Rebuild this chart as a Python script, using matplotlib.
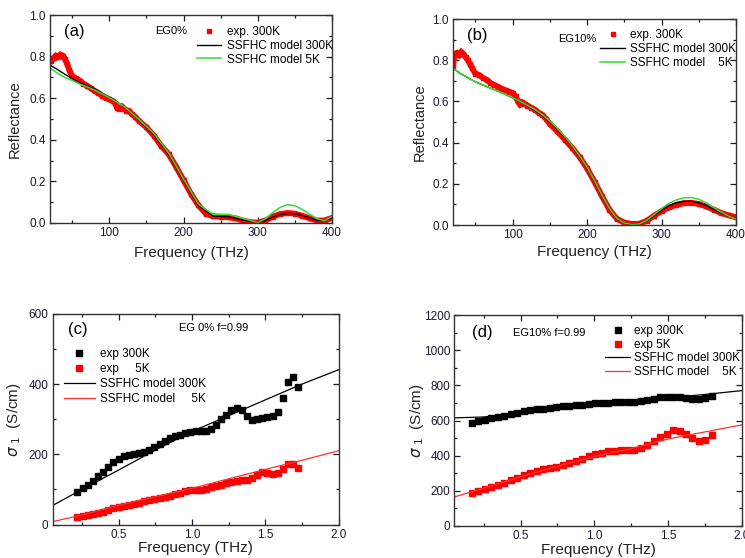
import numpy as np
import matplotlib
matplotlib.use('Agg')
import matplotlib.pyplot as plt
from matplotlib.ticker import MultipleLocator

plt.rcParams['font.family'] = ['Liberation Sans', 'DejaVu Sans']
plt.rcParams['mathtext.fontset'] = 'dejavusans'

GREEN = '#33dd33'

# ---- panel (a): EG0% reflectance ----
freq_a_exp = [22, 25, 28, 31, 34, 37, 40, 43, 46, 50, 55, 60, 65, 70, 75, 80, 85, 90, 95, 100,
              105, 108, 110, 113, 117, 120, 123, 126, 130, 135, 140, 150, 160, 170, 180, 190,
              200, 210, 220, 230, 240, 250, 260, 270, 280, 290, 300, 310, 320, 330, 340, 350,
              360, 370, 380, 390, 400]
refl_a_exp = [0.78, 0.795, 0.805, 0.80, 0.81, 0.805, 0.79, 0.765, 0.735, 0.705, 0.695, 0.685,
              0.67, 0.66, 0.648, 0.635, 0.625, 0.612, 0.602, 0.595, 0.585, 0.575, 0.555, 0.55,
              0.56, 0.55, 0.54, 0.54, 0.525, 0.51, 0.49, 0.46, 0.42, 0.37, 0.33, 0.27, 0.205,
              0.14, 0.085, 0.045, 0.032, 0.03, 0.028, 0.022, 0.012, 0.004, 0.002, 0.012, 0.03,
              0.043, 0.048, 0.045, 0.035, 0.022, 0.012, 0.012, 0.025]
freq_a_mod = [22, 30, 40, 50, 60, 70, 80, 90, 100, 120, 140, 160, 180, 200, 220, 240, 260, 280,
              300, 310, 320, 330, 340, 350, 360, 370, 380, 390, 400]
refl_a_300 = [0.755, 0.738, 0.715, 0.695, 0.675, 0.66, 0.645, 0.625, 0.605, 0.56, 0.495, 0.425,
              0.33, 0.205, 0.085, 0.033, 0.03, 0.015, 0.003, 0.012, 0.028, 0.04, 0.046, 0.044,
              0.036, 0.024, 0.013, 0.012, 0.025]
refl_a_5 = [0.74, 0.72, 0.70, 0.685, 0.668, 0.655, 0.64, 0.622, 0.603, 0.56, 0.497, 0.43,
            0.335, 0.21, 0.09, 0.04, 0.042, 0.022, 0.002, 0.02, 0.05, 0.075, 0.088, 0.083,
            0.065, 0.042, 0.02, 0.011, 0.032]

# ---- panel (b): EG10% reflectance ----
freq_b_exp = [20, 22, 25, 28, 31, 34, 37, 40, 43, 46, 50, 55, 60, 65, 70, 75, 80, 85, 90, 95,
              100, 104, 107, 110, 113, 117, 120, 125, 130, 135, 140, 145, 150, 160, 170, 180,
              190, 200, 210, 220, 230, 240, 250, 260, 270, 280, 290, 300, 310, 320, 330, 340,
              350, 360, 370, 380, 390, 400]
refl_b_exp = [0.77, 0.83, 0.835, 0.825, 0.84, 0.83, 0.815, 0.80, 0.78, 0.76, 0.735, 0.728,
              0.715, 0.705, 0.69, 0.68, 0.672, 0.662, 0.655, 0.648, 0.64, 0.625, 0.60, 0.585,
              0.595, 0.585, 0.58, 0.57, 0.56, 0.545, 0.535, 0.515, 0.49, 0.455, 0.415, 0.375,
              0.33, 0.275, 0.21, 0.14, 0.075, 0.03, 0.012, 0.005, 0.006, 0.02, 0.045, 0.068,
              0.085, 0.098, 0.106, 0.108, 0.102, 0.09, 0.075, 0.058, 0.047, 0.038]
freq_b_mod = [20, 30, 40, 50, 60, 70, 80, 90, 100, 110, 120, 130, 140, 150, 160, 170, 180, 190,
              200, 210, 220, 230, 240, 250, 260, 270, 280, 290, 300, 310, 320, 330, 340, 350,
              360, 370, 380, 390, 400]
refl_b_5 = [0.76, 0.735, 0.715, 0.695, 0.68, 0.665, 0.65, 0.635, 0.618, 0.6, 0.58, 0.56, 0.535,
            0.505, 0.47, 0.43, 0.385, 0.335, 0.28, 0.215, 0.145, 0.08, 0.032, 0.01, 0.003,
            0.005, 0.022, 0.05, 0.08, 0.105, 0.122, 0.132, 0.133, 0.125, 0.108, 0.085, 0.062,
            0.043, 0.03]
refl_b_300 = [0.76, 0.735, 0.715, 0.695, 0.68, 0.665, 0.65, 0.635, 0.617, 0.598, 0.578, 0.557,
              0.532, 0.502, 0.466, 0.427, 0.382, 0.332, 0.277, 0.212, 0.142, 0.078, 0.03, 0.01,
              0.004, 0.006, 0.02, 0.046, 0.072, 0.094, 0.108, 0.115, 0.115, 0.108, 0.094, 0.076,
              0.058, 0.043, 0.032]

# ---- panel (c): EG 0% conductivity ----
freq_c = [0.22, 0.255, 0.29, 0.325, 0.36, 0.395, 0.43, 0.465, 0.50, 0.535, 0.57, 0.605, 0.64,
          0.675, 0.71, 0.745, 0.78, 0.815, 0.85, 0.885, 0.92, 0.955, 0.99, 1.025, 1.06, 1.095,
          1.13, 1.165, 1.20, 1.235, 1.27, 1.305, 1.34, 1.375, 1.41, 1.445, 1.48, 1.515, 1.55,
          1.585, 1.62, 1.655, 1.69, 1.725]
sig_c_300 = [93, 103, 113, 125, 137, 150, 165, 178, 188, 195, 198, 200, 203, 207, 212, 220, 230,
             238, 246, 253, 256, 260, 265, 267, 267, 267, 272, 285, 300, 313, 325, 331, 327,
             310, 298, 300, 303, 305, 308, 320, 360, 405, 420, 393]
sig_c_5 = [20, 23, 27, 30, 33, 37, 42, 47, 50, 53, 56, 59, 62, 66, 69, 72, 76, 79, 82, 86, 90,
           95, 98, 99, 98, 101, 106, 110, 113, 117, 121, 124, 126, 126, 132, 140, 150, 148, 145,
           147, 157, 172, 172, 160]
freq_mod = [0.05, 0.25, 0.5, 0.75, 1.0, 1.25, 1.5, 1.75, 2.0]
sig_c_mod300 = [54, 100, 155, 212, 265, 310, 355, 400, 441]
sig_c_mod5 = [8, 27, 55, 79, 103, 130, 157, 183, 210]

# ---- panel (d): EG10% conductivity ----
freq_d = [0.17, 0.214, 0.258, 0.302, 0.346, 0.39, 0.434, 0.478, 0.522, 0.566, 0.61, 0.654,
          0.698, 0.742, 0.786, 0.83, 0.874, 0.918, 0.962, 1.006, 1.05, 1.094, 1.138, 1.182,
          1.226, 1.27, 1.314, 1.358, 1.402, 1.446, 1.49, 1.534, 1.578, 1.622, 1.666, 1.71,
          1.754, 1.798]
sig_d_300 = [588, 598, 604, 612, 620, 628, 635, 643, 652, 658, 663, 668, 672, 677, 680, 684, 688,
             690, 693, 697, 700, 702, 703, 704, 705, 708, 712, 716, 724, 732, 736, 736, 733, 728,
             722, 721, 728, 742]
sig_d_5 = [187, 200, 211, 221, 233, 247, 261, 275, 289, 302, 314, 322, 330, 337, 345, 356, 368,
           382, 396, 408, 418, 425, 429, 431, 432, 435, 445, 460, 482, 508, 525, 545, 542, 522,
           500, 485, 490, 515]
sig_d_mod300 = [615, 620, 640, 668, 695, 712, 730, 748, 770]
sig_d_mod5 = [165, 215, 280, 340, 395, 440, 495, 535, 575]

W, H = 745, 558
fig = plt.figure(figsize=(W / 100, H / 100), dpi=100)


def rect(l, t, r, b):
    return [l / W, 1 - b / H, (r - l) / W, (b - t) / H]


def style(ax):
    ax.tick_params(which='both', direction='in', top=True, right=True, labelsize=8.5,
                   colors='#1a1a2e', width=0.9, pad=3)
    ax.tick_params(which='major', length=4)
    ax.tick_params(which='minor', length=2.5)
    for s in ax.spines.values():
        s.set_linewidth(1.0)
        s.set_color('#333333')


ax_a = fig.add_axes(rect(50, 15, 332, 223))
ax_b = fig.add_axes(rect(453, 19, 736, 225))
ax_c = fig.add_axes(rect(52.5, 314, 338.5, 524.5))
ax_d = fig.add_axes(rect(454.3, 315, 741.7, 526))

# reflectance panels
for ax, fe, re, fm, r300, r5, tag, lab5, ty in [
        (ax_a, freq_a_exp, refl_a_exp, freq_a_mod, refl_a_300, refl_a_5, '(a)',
         'SSFHC model 5K', 0.947),
        (ax_b, freq_b_exp, refl_b_exp, freq_b_mod, refl_b_300, refl_b_5, '(b)',
         'SSFHC model    5K', 0.95)]:
    ax.plot(fe, re, '-', color='red', lw=4.2, solid_joinstyle='miter')
    ax.plot(fe, re, 's', color='red', ms=3.2, label='exp. 300K')
    ax.plot(fm, r300, '-', color='black', lw=1.0, label='SSFHC model 300K')
    ax.plot(fm, r5, '-', color=GREEN, lw=1.1, label=lab5)
    ax.set_xlim(20, 400)
    ax.set_ylim(0, 1.0)
    ax.xaxis.set_major_locator(MultipleLocator(100))
    ax.xaxis.set_minor_locator(MultipleLocator(50))
    ax.yaxis.set_major_locator(MultipleLocator(0.2))
    ax.yaxis.set_minor_locator(MultipleLocator(0.1))
    ax.yaxis.set_major_formatter(matplotlib.ticker.FormatStrFormatter('%.1f'))
    style(ax)
    ax.set_xlabel('Frequency (THz)', fontsize=11, color='#222')
    ax.set_ylabel('Reflectance', fontsize=10.5, color='#222')
    ax.text(0.085, 0.92, tag, transform=ax.transAxes, fontsize=12, ha='center', va='center')
    ax.legend(loc='upper left', bbox_to_anchor=(0.52, ty), frameon=False, fontsize=8.5,
              borderpad=0, borderaxespad=0, handlelength=2.1, handletextpad=0.45,
              labelspacing=0.15, numpoints=1)

ax_a.text(0.43, 0.923, 'EG0%', transform=ax_a.transAxes, fontsize=8, ha='center', va='center')
ax_b.text(0.438, 0.905, 'EG10%', transform=ax_b.transAxes, fontsize=8, ha='center', va='center')
ax_a.xaxis.set_label_coords(0.5, -0.112)
ax_a.yaxis.set_label_coords(-0.1, 0.5)
ax_b.xaxis.set_label_coords(0.5, -0.097)
ax_b.yaxis.set_label_coords(-0.092, 0.5)

# conductivity panels
for ax, fx, s300, s5, m300, m5, lab5e, lab5m in [
        (ax_c, freq_c, sig_c_300, sig_c_5, sig_c_mod300, sig_c_mod5, 'exp     5K',
         'SSFHC model     5K'),
        (ax_d, freq_d, sig_d_300, sig_d_5, sig_d_mod300, sig_d_mod5, 'exp 5K',
         'SSFHC model    5K')]:
    ax.plot(fx, s300, 's', color='black', ms=4.3, label='exp 300K')
    ax.plot(fx, s5, 's', color='red', ms=4.3, label=lab5e)
    ax.plot(freq_mod, m300, '-', color='black', lw=0.9, label='SSFHC model 300K')
    ax.plot(freq_mod, m5, '-', color='#ff3030', lw=0.9, label=lab5m)
    ax.set_xlim(0.05, 2.0)
    ax.xaxis.set_major_locator(MultipleLocator(0.5))
    ax.xaxis.set_minor_locator(MultipleLocator(0.25))
    ax.xaxis.set_major_formatter(matplotlib.ticker.FormatStrFormatter('%.1f'))
    style(ax)
    ax.set_xlabel('Frequency (THz)', fontsize=11, color='#222')
    ax.set_ylabel(r'$\sigma_{\ 1}$  (S/cm)', fontsize=11, color='#222')

ax_c.set_ylim(0, 600)
ax_c.yaxis.set_major_locator(MultipleLocator(200))
ax_c.yaxis.set_minor_locator(MultipleLocator(100))
ax_d.set_ylim(0, 1200)
ax_d.yaxis.set_major_locator(MultipleLocator(200))
ax_d.yaxis.set_minor_locator(MultipleLocator(100))

ax_c.text(0.09, 0.924, '(c)', transform=ax_c.transAxes, fontsize=12, ha='center', va='center')
ax_c.text(0.562, 0.933, 'EG 0% f=0.99', transform=ax_c.transAxes, fontsize=8, ha='center',
          va='center')
ax_d.text(0.098, 0.915, '(d)', transform=ax_d.transAxes, fontsize=12, ha='center', va='center')
ax_d.text(0.33, 0.915, 'EG10% f=0.99', transform=ax_d.transAxes, fontsize=8, ha='center',
          va='center')

ax_c.legend(loc='upper left', bbox_to_anchor=(0.04, 0.838), frameon=False, fontsize=8.5,
            borderpad=0, borderaxespad=0, handlelength=2.6, handletextpad=0.45,
            labelspacing=0.25, numpoints=1)
ax_d.legend(loc='upper left', bbox_to_anchor=(0.526, 0.953), frameon=False, fontsize=8.5,
            borderpad=0, borderaxespad=0, handlelength=2.1, handletextpad=0.3,
            labelspacing=0.15, numpoints=1)

ax_c.xaxis.set_label_coords(0.5, -0.08)
ax_c.yaxis.set_label_coords(-0.103, 0.5)
ax_d.xaxis.set_label_coords(0.5, -0.08)
ax_d.yaxis.set_label_coords(-0.1, 0.5)

fig.savefig('out.png', dpi=100)
